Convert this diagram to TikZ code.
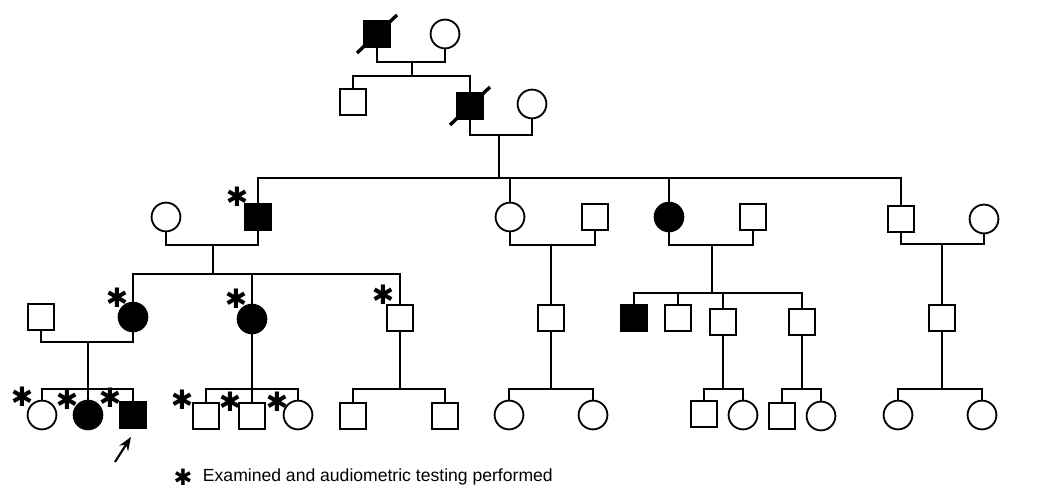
\documentclass[tikz,border=0pt]{standalone}
\usepackage{fontspec}
\setsansfont{Liberation Sans}
\newfontfamily\starfont{DejaVu Sans}
\usetikzlibrary{arrows.meta, calc}
\tikzset{
  >=Stealth,
  male/.style={rectangle, draw, line width=1.3pt, minimum size=0.65cm, inner sep=0pt},
  female/.style={circle, draw, line width=1.3pt, minimum size=0.72cm, inner sep=0pt},
  affected/.style={fill=black},
  link/.style={line width=1.3pt},
  deceased/.style={line width=2.4pt},
  exam/.style={font=\starfont\bfseries\fontsize{19}{19}\selectfont, inner sep=0pt},
  probandarrow/.style={-{Stealth[length=3.4mm, width=2.6mm]}, line width=1.5pt}
}

\begin{document}
\begin{tikzpicture}[x=0.025cm, y=-0.025cm]
    \useasboundingbox (0,0) rectangle (1053,490);

    % Generation I
    \node[male, affected] (i1) at (377,34) {};
    \node[female] (i2) at (445,34) {};
    \draw[deceased] ([shift={(-20,19)}]i1.center) -- ([shift={(20,-19)}]i1.center);
    \coordinate (mi) at (412,62);
    \coordinate (si) at (412,76);
    \draw[link] (i1.south) |- (mi) -| (i2.south);
    \draw[link] (mi) -- (si);

    % Generation II
    \node[male] (ii1) at (353,102) {};
    \node[male, affected] (ii2) at (470,106) {};
    \node[female] (ii3) at (532,104) {};
    \draw[deceased] ([shift={(-20,19)}]ii2.center) -- ([shift={(20,-19)}]ii2.center);
    \draw[link] (ii1.north) |- (si) -| (ii2.north);
    \coordinate (mii) at (499,135);
    \coordinate (sii) at (499,178);
    \draw[link] (ii2.south) |- (mii) -| (ii3.south);
    \draw[link] (mii) -- (sii);

    % Generation III
    \node[female] (iii1) at (166,217) {};
    \node[male, affected] (iii2) at (258,217) {};
    \node[female] (iii3) at (510,217) {};
    \node[male] (iii4) at (595,217) {};
    \node[female, affected] (iii5) at (669,217) {};
    \node[male] (iii6) at (753,217) {};
    \node[male] (iii7) at (901,219) {};
    \node[female] (iii8) at (984,219) {};
    \draw[link] (iii2.north) |- (sii) -| (iii7.north);
    \draw[link] (iii3.north) -- (iii3.north |- sii);
    \draw[link] (iii5.north) -- (iii5.north |- sii);

    % Marriages of generation III
    \coordinate (miii1) at (213,245);
    \coordinate (siii1) at (213,274);
    \coordinate (miii2) at (551,245);
    \coordinate (miii3) at (712,245);
    \coordinate (siii3) at (712,293);
    \coordinate (miii4) at (942,244);
    \draw[link] (iii1.south) |- (miii1) -| (iii2.south);
    \draw[link] (miii1) -- (siii1);
    \draw[link] (iii3.south) |- (miii2) -| (iii4.south);
    \draw[link] (iii5.south) |- (miii3) -| (iii6.south);
    \draw[link] (miii3) -- (siii3);
    \draw[link] (iii7.south) |- (miii4) -| (iii8.south);

    % Generation IV
    \node[male] (iv1) at (41,317) {};
    \node[female, affected] (iv2) at (133,317) {};
    \node[female, affected] (iv3) at (252,319) {};
    \node[male] (iv4) at (400,318) {};
    \node[male] (iv5) at (551,318) {};
    \node[male, affected] (iv6) at (634,318) {};
    \node[male] (iv7) at (678,318) {};
    \node[male] (iv8) at (723,322) {};
    \node[male] (iv9) at (802,322) {};
    \node[male] (iv10) at (942,318) {};
    \draw[link] (iv2.north) |- (siii1) -| (iv4.north);
    \draw[link] (iv3.north) -- (iv3.north |- siii1);
    \draw[link] (miii2) -- (iv5.north);
    \draw[link] (iv6.north) |- (siii3) -| (iv9.north);
    \draw[link] (iv7.north) -- (iv7.north |- siii3);
    \draw[link] (iv8.north) -- (iv8.north |- siii3);
    \draw[link] (miii4) -- (iv10.north);

    % Sibships of generation V
    \coordinate (miv1) at (88,342);
    \coordinate (siv1) at (88,389);
    \coordinate (siv2) at (252,389);
    \coordinate (siv3) at (400,389);
    \coordinate (siv4) at (551,389);
    \coordinate (siv5) at (723,389);
    \coordinate (siv6) at (802,389);
    \coordinate (siv7) at (942,389);
    \draw[link] (iv1.south) |- (miv1) -| (iv2.south);
    \draw[link] (miv1) -- (siv1);
    \draw[link] (iv3.south) -- (siv2);
    \draw[link] (iv4.south) -- (siv3);
    \draw[link] (iv5.south) -- (siv4);
    \draw[link] (iv8.south) -- (siv5);
    \draw[link] (iv9.south) -- (siv6);
    \draw[link] (iv10.south) -- (siv7);

    % Generation V
    \node[female] (v1) at (42,415) {};
    \node[female, affected] (v2) at (88,415) {};
    \node[male, affected] (v3) at (133,415) {};
    \node[male] (v4) at (206,416) {};
    \node[male] (v5) at (252,416) {};
    \node[female] (v6) at (298,415) {};
    \node[male] (v7) at (353,416) {};
    \node[male] (v8) at (445,416) {};
    \node[female] (v9) at (509,415) {};
    \node[female] (v10) at (593,415) {};
    \node[male] (v11) at (704,414) {};
    \node[female] (v12) at (743,415) {};
    \node[male] (v13) at (782,416) {};
    \node[female] (v14) at (821,416) {};
    \node[female] (v15) at (898,415) {};
    \node[female] (v16) at (982,415) {};
    \draw[link] (v1.north) |- (siv1) -| (v3.north);
    \draw[link] (v2.north) -- (siv1);
    \draw[link] (v4.north) |- (siv2) -| (v6.north);
    \draw[link] (v5.north) -- (siv2);
    \draw[link] (v7.north) |- (siv3) -| (v8.north);
    \draw[link] (v9.north) |- (siv4) -| (v10.north);
    \draw[link] (v11.north) |- (siv5) -| (v12.north);
    \draw[link] (v13.north) |- (siv6) -| (v14.north);
    \draw[link] (v15.north) |- (siv7) -| (v16.north);

    % Examined persons
    \foreach \p/\dx/\dy in {iii2/-21/-20, iv2/-16/-19, iv3/-16/-20, iv4/-17/-23,
                            v1/-20/-18, v2/-21/-15, v3/-23/-17,
                            v4/-24/-16, v5/-22/-14, v6/-21/-13}
        \node[exam] at ([shift={(\dx,\dy)}]\p.center) {✱};

    % Proband
    \coordinate (ptail) at (115,462);
    \draw[probandarrow] (ptail) -- ([shift={(-2,8)}]v3.south);

    % Key
    \node[exam, font=\starfont\bfseries\fontsize{16}{16}\selectfont] (key) at (183,477) {✱};
    \node[anchor=west, font=\sffamily\fontsize{12.5}{15}\selectfont] (keytext) at (198,477) {Examined and audiometric testing performed};
\end{tikzpicture}
\end{document}
